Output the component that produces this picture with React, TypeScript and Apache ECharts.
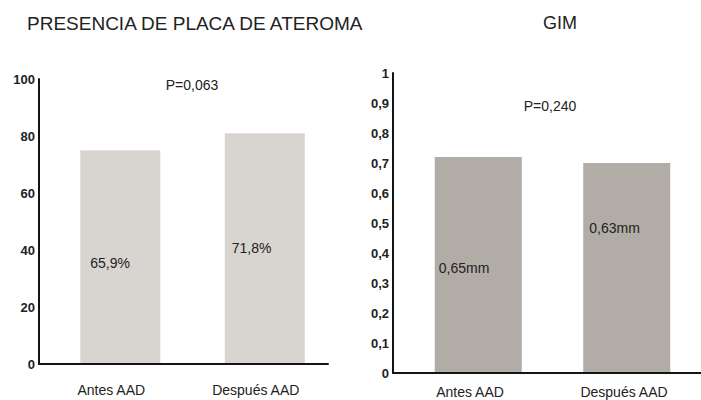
import React, { useEffect, useRef } from "react";
import * as echarts from "echarts";

const categories = ["Antes AAD", "Después AAD"];
const placaValues = [75, 81];
const placaLabels = ["65,9%", "71,8%"];
const gimValues = [0.72, 0.7];
const gimLabels = ["0,65mm", "0,63mm"];
const placaTitle = "PRESENCIA DE PLACA DE ATEROMA";
const gimTitle = "GIM";
const placaP = "P=0,063";
const gimP = "P=0,240";

const FONT = "'Liberation Sans', Arial, Helvetica, sans-serif";
const TEXT = "#222222";
const AXIS = "#141414";

function buildOption() {
  const placaLabelPos = [
    [10, 106],
    [7, 108],
  ];
  const gimLabelPos = [
    [4, 104],
    [6, 58],
  ];
  const axisBase = (margin: number) => ({
    type: "category" as const,
    data: categories,
    z: 5,
    axisLine: { show: true, lineStyle: { color: AXIS, width: 2 } },
    axisTick: { show: false },
    axisLabel: { margin, fontSize: 14, color: TEXT, fontFamily: FONT },
  });
  const yBase = (max: number, interval: number, fmt: (v: number) => string) => ({
    type: "value" as const,
    min: 0,
    max,
    interval,
    z: 5,
    axisLine: { show: true, lineStyle: { color: AXIS, width: 2 } },
    axisTick: { show: false },
    splitLine: { show: false },
    axisLabel: {
      margin: 4,
      fontSize: 13,
      fontWeight: "bold" as const,
      color: TEXT,
      fontFamily: FONT,
      formatter: fmt,
    },
  });
  const labelBase = {
    show: true,
    fontSize: 14,
    color: TEXT,
    fontFamily: FONT,
  };
  const txt = (text: string, x: number, y: number, size: number, align: string) => ({
    type: "text",
    x,
    y,
    style: {
      text,
      fontSize: size,
      fontFamily: FONT,
      fill: TEXT,
      textAlign: align,
      textVerticalAlign: "middle",
    },
  });
  return {
    animation: false,
    backgroundColor: "#ffffff",
    grid: [
      { left: 39, top: 79, width: 289, height: 285 },
      { left: 48, top: 79, width: 289, height: 285 },
      { left: 393, top: 73, width: 316, height: 300 },
      { left: 404, top: 73, width: 316, height: 300 },
    ],
    xAxis: [
      { gridIndex: 0, ...axisBase(19) },
      { gridIndex: 1, type: "category", data: categories, show: false },
      { gridIndex: 2, ...axisBase(12) },
      { gridIndex: 3, type: "category", data: categories, show: false },
    ],
    yAxis: [
      { gridIndex: 0, ...yBase(100, 20, (v: number) => String(v)) },
      { gridIndex: 1, type: "value", min: 0, max: 100, show: false },
      {
        gridIndex: 2,
        ...yBase(1, 0.1, (v: number) => String(Number(v.toFixed(1))).replace(".", ",")),
      },
      { gridIndex: 3, type: "value", min: 0, max: 1, show: false },
    ],
    series: [
      {
        type: "bar",
        xAxisIndex: 1,
        yAxisIndex: 1,
        barWidth: 80,
        itemStyle: { color: "#d8d5d1" },
        label: { ...labelBase, formatter: (p: any) => placaLabels[p.dataIndex] },
        data: placaValues.map((v, i) => ({ value: v, label: { position: placaLabelPos[i] } })),
      },
      {
        type: "bar",
        xAxisIndex: 3,
        yAxisIndex: 3,
        barWidth: 87,
        itemStyle: { color: "#b1aca6" },
        label: { ...labelBase, formatter: (p: any) => gimLabels[p.dataIndex] },
        data: gimValues.map((v, i) => ({ value: v, label: { position: gimLabelPos[i] } })),
      },
    ],
    graphic: [
      txt(placaTitle, 27, 23, 19, "left"),
      txt(gimTitle, 560, 23, 18, "center"),
      txt(placaP, 192, 85, 14, "center"),
      txt(gimP, 550, 106, 14, "center"),
    ],
  };
}

export default function App() {
  const ref = useRef<HTMLDivElement>(null);
  useEffect(() => {
    if (!ref.current) return;
    const chart = echarts.init(ref.current, undefined, { renderer: "svg" });
    chart.setOption(buildOption() as any);
    return () => chart.dispose();
  }, []);
  return (
    <div
      ref={ref}
      style={{ position: "absolute", left: 0, top: 0, width: 701, height: 400 }}
    />
  );
}
